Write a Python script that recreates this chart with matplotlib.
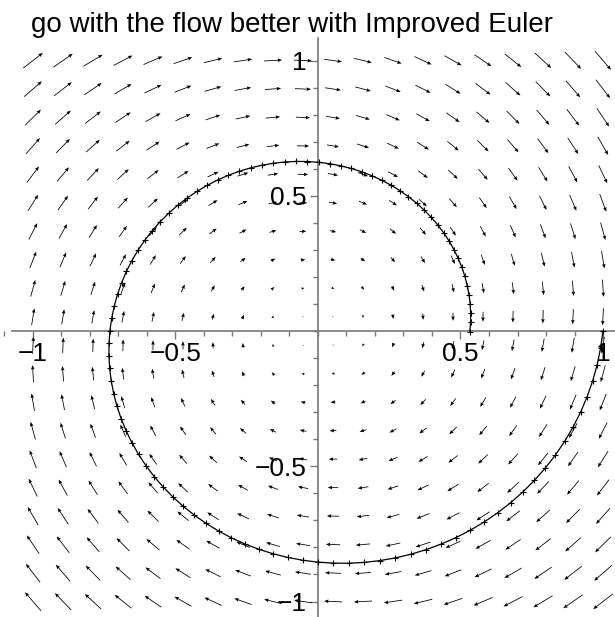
import numpy as np
import matplotlib
matplotlib.use("Agg")
from matplotlib import pyplot as plt
from matplotlib.ticker import MultipleLocator, FixedLocator

plt.rcParams['font.family'] = ['Liberation Sans', 'DejaVu Sans']

# sistema: x' = y - a x , y' = -x - a y  (espiral que se va hacia el origen)
a_amort = 0.1
w = 1.0

# grilla del campo de direcciones (20 x 20 flechas entre -1 y 1)
n_grid = 20
x_min, x_max = -1.0, 1.0
y_min, y_max = -1.0, 1.0

# condicion inicial y paso de Euler mejorado
x0, y0 = 1.0, 0.0
t_final = 2 * np.pi
n_pasos = 100

ticks_mayores = [-1, -0.5, 0.5, 1]
etiquetas = ["\u22121", "\u22120.5", "0.5", "1"]
titulo = "go with the flow better with Improved Euler"


def campo(x, y):
    return y * w - a_amort * x, -w * x - a_amort * y


# se integra con Euler mejorado (Heun)
h = t_final / n_pasos
xs = [x0]
ys = [y0]
for i in range(n_pasos):
    x, y = xs[-1], ys[-1]
    k1x, k1y = campo(x, y)
    k2x, k2y = campo(x + h * k1x, y + h * k1y)
    xs.append(x + h / 2 * (k1x + k2x))
    ys.append(y + h / 2 * (k1y + k2y))

X, Y = np.meshgrid(np.linspace(x_min, x_max, n_grid),
                   np.linspace(y_min, y_max, n_grid))
U, V = campo(X, Y)

fig = plt.figure(figsize=(6.15, 6.17), dpi=100)
ax = fig.add_axes([0, 0, 1, 579 / 617])
ax.set_xlim(-318 / 285, (615 - 318) / 285)
ax.set_ylim(-(617 - 331) / 270.5, (331 - 38) / 270.5)

ax.quiver(X, Y, U, V, angles='xy', scale_units='xy', scale=16, pivot='mid',
          units='dots', width=0.8, headwidth=4.5, headlength=5.5,
          headaxislength=5, color='black', zorder=3)

ax.plot(xs, ys, color='black', linewidth=0.9, marker='+', markersize=5,
        markeredgewidth=0.8, zorder=4)

# ejes al estilo maple
for s in ['top', 'right']:
    ax.spines[s].set_visible(False)
ax.spines['left'].set_position(('data', 0))
ax.spines['bottom'].set_position(('data', 0))
ax.spines['bottom'].set_bounds(-(318 - 12) / 285, (615 - 318) / 285)
for s in ['left', 'bottom']:
    ax.spines[s].set_color('#777777')
    ax.spines[s].set_linewidth(1.2)
    ax.spines[s].set_zorder(1)

ax.xaxis.set_major_locator(FixedLocator(ticks_mayores))
ax.yaxis.set_major_locator(FixedLocator(ticks_mayores))
ax.set_xticklabels(etiquetas)
ax.set_yticklabels(etiquetas)
ax.xaxis.set_minor_locator(MultipleLocator(0.1))
ax.yaxis.set_minor_locator(MultipleLocator(0.1))
ax.tick_params(which='major', length=6, width=1, color='#777777',
               labelsize=19, pad=2)
ax.tick_params(which='minor', length=3.5, width=1, color='#777777')

fig.text(31 / 615, 1 - 32 / 617, titulo, fontsize=20, ha='left',
         va='baseline')

fig.savefig("out.png", dpi=100)
